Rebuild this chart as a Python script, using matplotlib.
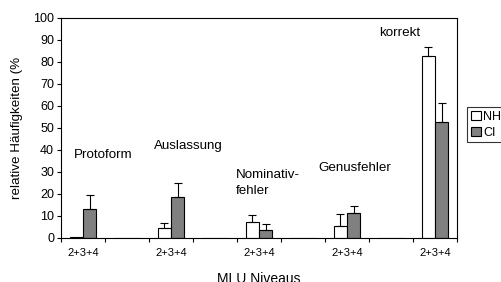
import numpy as np
import matplotlib.pyplot as plt

plt.rcParams['font.family'] = ['Liberation Sans', 'DejaVu Sans']

# 9 Kategorien, jede zweite leer
tick_labels = ['2+3+4', '', '2+3+4', '', '2+3+4', '', '2+3+4', '', '2+3+4']
nh_values = [0.5, 0, 4.5, 0, 7.2, 0, 5.5, 0, 82.5]
nh_err = [0, 0, 2.3, 0, 3.2, 0, 5.5, 0, 4.5]
ci_values = [13.2, 0, 18.8, 0, 3.8, 0, 11.3, 0, 52.5]
ci_err = [6.5, 0, 6.2, 0, 2.7, 0, 3.4, 0, 9.0]

group_names = ['Protoform', 'Auslassung', 'Nominativ-\nfehler', 'Genusfehler', 'korrekt']
name_x = [0.45, 2.39, 3.48, 6.18, 7.2]
name_y = [37.7, 41.8, 25.0, 31.8, 93.2]
name_ha = ['center', 'center', 'left', 'center', 'center']

fig = plt.figure(figsize=(5.01, 2.82), dpi=100)
ax = fig.add_axes([61/501, 1 - 238/282, 396/501, 220/282])

x = np.arange(len(tick_labels))
w = 0.3
ax.bar(x - w/2, nh_values, w, color='white', edgecolor='black', linewidth=0.8, label='NH')
ax.bar(x + w/2, ci_values, w, color='#808080', edgecolor='black', linewidth=0.8, label='CI')

for xs, vals, errs in [(x - w/2, nh_values, nh_err), (x + w/2, ci_values, ci_err)]:
    for xi, v, e in zip(xs, vals, errs):
        if e > 0:
            ax.errorbar(xi, v, yerr=[[0], [e]], fmt='none', ecolor='black',
                        elinewidth=0.8, capsize=3, capthick=0.8)

for name, nx, ny, ha in zip(group_names, name_x, name_y, name_ha):
    ax.text(nx, ny, name, fontsize=9.6, ha=ha, va='center', linespacing=1.45)

ax.set_xlim(-0.5, 8.5)
ax.set_ylim(0, 100)
ax.set_yticks(np.arange(0, 101, 10))
ax.set_xticks(np.arange(-0.5, 9, 1), minor=False)
ax.set_xticklabels([])
ax.set_xticks(x, minor=True)
ax.set_xticklabels(tick_labels, minor=True)
ax.tick_params(axis='x', which='minor', length=0, labelsize=8, pad=7.5)
ax.tick_params(axis='x', which='major', length=3, direction='out')
ax.tick_params(axis='y', labelsize=9, length=3, direction='out', pad=2)
for s in ax.spines.values():
    s.set_linewidth(0.8)

ax.set_ylabel('relative Häufigkeiten (%', fontsize=9.6, labelpad=7)
ax.set_xlabel('MLU Niveaus', fontsize=10, labelpad=10)

leg = ax.legend(loc='upper left', bbox_to_anchor=(467/501, 1 - 107/282),
                bbox_transform=fig.transFigure, fontsize=9, frameon=True,
                fancybox=False, edgecolor='black', handlelength=0.8, handleheight=0.8,
                handletextpad=0.2, borderpad=0.3, labelspacing=0.3, borderaxespad=0)
leg.get_frame().set_linewidth(0.8)

fig.savefig('out.png', dpi=100)
